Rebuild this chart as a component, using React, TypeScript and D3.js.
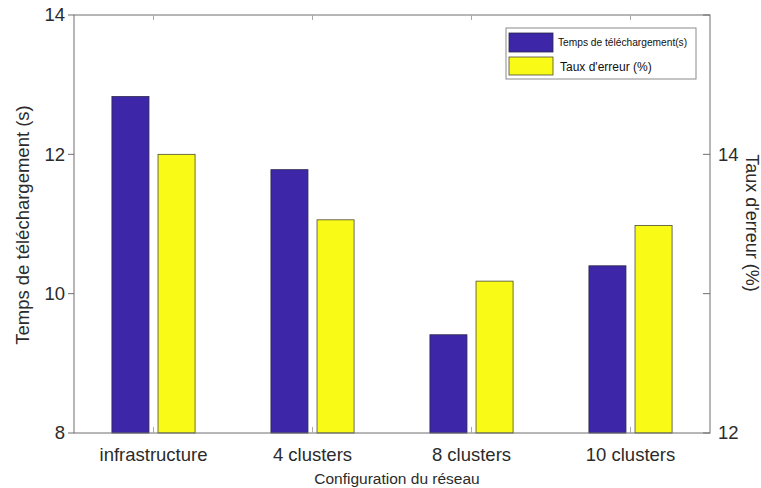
import React from "react";
import * as d3 from "d3";

const categories = ["infrastructure", "4 clusters", "8 clusters", "10 clusters"];
const downloadTime = [12.83, 11.78, 9.41, 10.4];
const errorRate = [14.0, 13.53, 13.09, 13.49];
const leftTicks = [8, 10, 12, 14];
const rightTicks = [12, 13, 14, 15];
const rightTickLabels = ["12", "", "14", ""];
const seriesNames = ["Temps de téléchargement(s)", "Taux d'erreur (%)"];

const W = 761;
const H = 488;
const M = { left: 74, right: 710, top: 15, bottom: 433 };
const BLUE = "#3E26A8";
const YELLOW = "#F9FA15";
const AX = "#6f6f6f";
const TXT = "#2b2b2b";
const FONT = "'Liberation Sans', Arial, Helvetica, sans-serif";

export default function App() {
  const x = d3.scaleLinear().domain([0.5, categories.length + 0.5]).range([M.left, M.right]);
  const yL = d3.scaleLinear().domain([8, 14]).range([M.bottom, M.top]);
  const yR = d3.scaleLinear().domain([12, 15]).range([M.bottom, M.top]);
  const step = x(2) - x(1);
  const bw = step * 0.233;
  const off = step * 0.145;

  return (
    <svg width={W} height={H} style={{ position: "absolute", left: 0, top: 0, background: "#fff" }} fontFamily={FONT}>
      <rect x={0} y={0} width={W} height={H} fill="#fff" />
      {/* bars */}
      {categories.map((c, i) => (
        <g key={c}>
          <rect
            x={x(i + 1) - off - bw / 2}
            y={yL(downloadTime[i])}
            width={bw}
            height={M.bottom - yL(downloadTime[i])}
            fill={BLUE}
            stroke="#2a2a4a"
            strokeWidth={0.8}
          />
          <rect
            x={x(i + 1) + off - bw / 2}
            y={yR(errorRate[i])}
            width={bw}
            height={M.bottom - yR(errorRate[i])}
            fill={YELLOW}
            stroke="#4a4a3a"
            strokeWidth={0.8}
          />
        </g>
      ))}
      {/* box */}
      <rect x={M.left} y={M.top} width={M.right - M.left} height={M.bottom - M.top} fill="none" stroke={AX} strokeWidth={1} />
      {/* category ticks */}
      {categories.map((c, i) => (
        <g key={"t" + c}>
          <line x1={x(i + 1)} x2={x(i + 1)} y1={M.bottom} y2={M.bottom - 6} stroke="#aaa" strokeWidth={1} />
          <line x1={x(i + 1)} x2={x(i + 1)} y1={M.top} y2={M.top + 5} stroke="#aaa" strokeWidth={1} />
          <text x={x(i + 1)} y={461} textAnchor="middle" fontSize={18.5} fill={TXT}>
            {c}
          </text>
        </g>
      ))}
      {/* left axis */}
      {leftTicks.map((t) => (
        <g key={"l" + t}>
          <line x1={M.left - 6} x2={M.left} y1={yL(t)} y2={yL(t)} stroke={AX} />
          <text x={65} y={yL(t)} dy="0.35em" textAnchor="end" fontSize={18.5} fill={TXT}>
            {t}
          </text>
        </g>
      ))}
      {/* right axis */}
      {rightTicks.map((t, i) => (
        <g key={"r" + t}>
          <line x1={M.right - 7} x2={M.right} y1={yR(t)} y2={yR(t)} stroke={AX} />
          {rightTickLabels[i] && (
            <text x={718} y={yR(t)} dy="0.35em" textAnchor="start" fontSize={18.5} fill={TXT}>
              {rightTickLabels[i]}
            </text>
          )}
        </g>
      ))}
      {/* axis labels */}
      <text transform={`translate(29,225) rotate(-90)`} textAnchor="middle" fontSize={18.5} fill={TXT}>
        Temps de téléchargement (s)
      </text>
      <text transform={`translate(746,223) rotate(90)`} textAnchor="middle" fontSize={18} fill={TXT}>
        Taux d'erreur (%)
      </text>
      <text x={397} y={484} textAnchor="middle" fontSize={15.5} fill={TXT}>
        Configuration du réseau
      </text>
      {/* legend */}
      <g>
        <rect x={506} y={28} width={190} height={51} fill="#fff" stroke="#8a8a8a" strokeWidth={1} />
        <rect x={509} y={33} width={44} height={19} fill={BLUE} stroke="#2a2a4a" strokeWidth={0.8} />
        <rect x={509} y={57} width={44} height={18} fill={YELLOW} stroke="#4a4a3a" strokeWidth={0.8} />
        <text x={558} y={46} fontSize={10.2} fill="#111">
          {seriesNames[0]}
        </text>
        <text x={560} y={70.5} fontSize={12} fill="#111">
          {seriesNames[1]}
        </text>
      </g>
    </svg>
  );
}
